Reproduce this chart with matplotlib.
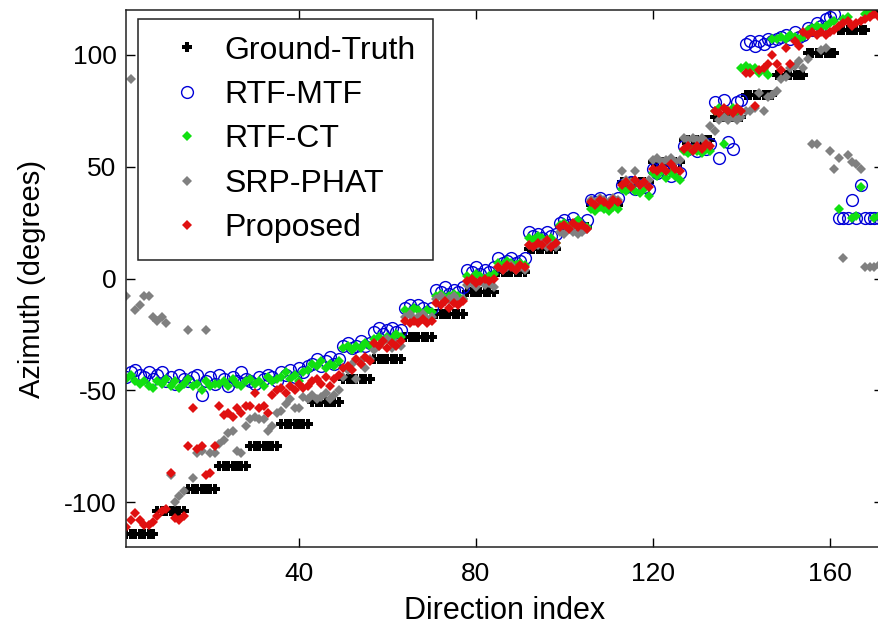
import numpy as np
import matplotlib
matplotlib.use("Agg")
import matplotlib.pyplot as plt

plt.rcParams["font.family"] = ["Liberation Sans", "DejaVu Sans"]
plt.rcParams["axes.unicode_minus"] = False

# direction index 1..172, 7 directions per ground-truth level
direction_index = np.arange(1, 173)

ground_truth = [
    -114, -114, -114, -114, -114, -114, -114,
    -104, -104, -104, -104, -104, -104, -104,
    -94, -94, -94, -94, -94, -94, -94,
    -84, -84, -84, -84, -84, -84, -84,
    -75, -75, -75, -75, -75, -75, -75,
    -65, -65, -65, -65, -65, -65, -65,
    -55, -55, -55, -55, -55, -55, -55,
    -45, -45, -45, -45, -45, -45, -45,
    -36, -36, -36, -36, -36, -36, -36,
    -26, -26, -26, -26, -26, -26, -26,
    -16, -16, -16, -16, -16, -16, -16,
    -6, -6, -6, -6, -6, -6, -6,
    3, 3, 3, 3, 3, 3, 3,
    13, 13, 13, 13, 13, 13, 13,
    23, 23, 23, 23, 23, 23, 23,
    33, 33, 33, 33, 33, 33, 33,
    43, 43, 43, 43, 43, 43, 43,
    52, 52, 52, 52, 52, 52, 52,
    62, 62, 62, 62, 62, 62, 62,
    72, 72, 72, 72, 72, 72, 72,
    82, 82, 82, 82, 82, 82, 82,
    91, 91, 91, 91, 91, 91, 91,
    101, 101, 101, 101, 101, 101, 101,
    111, 111, 111, 111, 111, 111, 111,
    120, 120, 120, 120,
]

rtf_mtf = [
    -44, -42, -41, -43, -44, -42, -45,
    -43, -42, -46, -44, -47, -43, -45,
    -46, -44, -43, -52, -46, -44, -47,
    -43, -45, -48, -44, -46, -42, -45,
    -46, -47, -44, -45, -43, -44, -46,
    -42, -43, -41, -44, -40, -42, -39,
    -38, -36, -39, -37, -35, -38, -36,
    -30, -29, -31, -30, -28, -30, -29,
    -24, -22, -25, -23, -22, -24, -23,
    -13, -12, -14, -12, -13, -15, -13,
    -5, -6, -4, -7, -5, -6, -4,
    4, 3, 5, 2, 4, 3, 5,
    9, 7, 8, 9, 7, 8, 9,
    21, 19, 20, 18, 21, 19, 20,
    25, 26, 24, 27, 25, 23, 26,
    35, 34, 36, 33, 35, 34, 36,
    42, 41, 43, 40, 42, 41, 40,
    49, 47, 50, 48, 46, 49, 47,
    59, 58, 60, 57, 59, 58, 60,
    79, 54, 80, 61, 58, 79, 80,
    105, 106, 104, 106, 105, 107, 106,
    107, 108, 109, 107, 110, 108, 109,
    112, 111, 114, 113, 116, 117, 118,
    27, 27, 27, 35, 27, 42, 27,
    27, 27, 27, 27,
]

rtf_ct = [
    -45, -43, -46, -47, -46, -48, -49,
    -46, -47, -45, -48, -46, -49, -47,
    -45, -48, -47, -50, -46, -48, -47,
    -47, -46, -48, -45, -47, -48, -46,
    -45, -47, -46, -48, -44, -46, -45,
    -44, -42, -45, -43, -46, -42, -41,
    -38, -39, -37, -40, -38, -39, -37,
    -31, -30, -32, -30, -31, -29, -30,
    -27, -26, -28, -26, -27, -25, -26,
    -14, -15, -13, -14, -16, -14, -15,
    -8, -7, -9, -8, -7, -8, -9,
    1, 0, 2, 1, 0, 1, 2,
    7, 6, 8, 7, 6, 7, 6,
    18, 17, 19, 18, 17, 18, 16,
    24, 25, 23, 24, 26, 24, 23,
    31, 30, 32, 31, 30, 32, 31,
    40, 39, 41, 39, 38, 40, 37,
    47, 46, 48, 45, 47, 46, 44,
    57, 56, 58, 57, 56, 58, 57,
    75, 76, 60, 75, 76, 75, 94,
    95, 94, 94, 92, 93, 91, 107,
    107, 108, 107, 109, 108, 107, 108,
    111, 112, 113, 112, 113, 114, 115,
    31, 116, 117, 27, 28, 41, 118,
    119, 27, 28, 27,
]

srp_phat = [
    -8, 89, -14, -12, -8, -8, -17,
    -19, -17, -20, -88, -100, -97, -95,
    -23, -89, -78, -77, -23, -78, -78,
    -74, -72, -69, -68, -77, -78, -66,
    -63, -62, -63, -63, -68, -66, -60,
    -59, -56, -54, -58, -58, -53, -54,
    -52, -54, -53, -51, -54, -52, -50,
    -44, -41, -38, -45, -37, -40, -36,
    -32, -30, -28, -27, -31, -29, -30,
    -17, -16, -18, -17, -16, -18, -17,
    -9, -8, -10, -9, -8, -10, -9,
    -3, -2, -4, -1, -3, -2, -4,
    5, 4, 5, 6, 4, 5, 4,
    15, 14, 15, 16, 14, 15, 14,
    21, 20, 22, 21, 20, 21, 22,
    35, 34, 36, 35, 34, 36, 35,
    48, 44, 43, 48, 42, 43, 44,
    53, 54, 52, 53, 54, 52, 53,
    63, 62, 63, 62, 63, 61, 68,
    66, 71, 72, 71, 72, 71, 72,
    75, 75, 76, 83, 75, 81, 82,
    84, 89, 90, 94, 95, 97, 94,
    98, 60, 60, 102, 103, 57, 49,
    54, 9, 55, 52, 51, 49, 5,
    5, 5, 6, 5,
]

proposed = [
    -111, -108, -105, -108, -110, -110, -109,
    -106, -104, -103, -87, -107, -108, -106,
    -75, -58, -76, -75, -88, -87, -75,
    -57, -61, -60, -62, -58, -60, -57,
    -57, -51, -58, -57, -60, -52, -50,
    -49, -51, -48, -50, -47, -49, -48,
    -46, -45, -47, -44, -48, -45, -43,
    -40, -39, -41, -36, -38, -35, -37,
    -29, -30, -28, -31, -29, -30, -28,
    -19, -20, -19, -20, -18, -20, -19,
    -11, -12, -10, -13, -11, -12, -10,
    -1, 0, -2, -1, 0, -1, 0,
    5, 4, 6, 5, 4, 6, 5,
    15, 14, 16, 15, 17, 14, 16,
    23, 24, 22, 25, 23, 24, 22,
    34, 33, 35, 34, 33, 35, 34,
    42, 43, 41, 44, 42, 43, 41,
    49, 48, 50, 48, 51, 49, 48,
    58, 59, 57, 59, 58, 60, 59,
    75, 74, 76, 75, 74, 76, 75,
    92, 92, 77, 93, 94, 96, 100,
    96, 93, 103, 96, 106, 104, 110,
    109, 110, 109, 110, 109, 110, 111,
    113, 114, 115, 113, 114, 115, 116,
    117, 118, 117, 118,
]

fig = plt.figure(figsize=(8.79, 6.25), dpi=100)
# the original figure is cropped on the right, so the axes runs past the edge
ax = fig.add_axes([0.1438, 0.1248, 0.8608, 0.8592])

ax.plot(direction_index, ground_truth, linestyle="none", marker="P",
        markersize=7, color="black", markeredgewidth=0, label="Ground-Truth")
ax.plot(direction_index, rtf_mtf, linestyle="none", marker="o",
        markersize=8.5, markerfacecolor="none", markeredgecolor="#0000d8",
        markeredgewidth=1.0, label="RTF-MTF")
ax.plot(direction_index, rtf_ct, linestyle="none", marker="D",
        markersize=4.6, color="#11e011", markeredgewidth=0, label="RTF-CT")
ax.plot(direction_index, srp_phat, linestyle="none", marker="D",
        markersize=4.6, color="#808080", markeredgewidth=0, label="SRP-PHAT")
ax.plot(direction_index, proposed, linestyle="none", marker="D",
        markersize=4.6, color="#e01010", markeredgewidth=0, label="Proposed")

ax.set_xlim(1, 172)
ax.set_ylim(-120, 120)
ax.set_xticks([40, 80, 120, 160])
ax.set_yticks([-100, -50, 0, 50, 100])
ax.tick_params(direction="in", length=6.5, width=1, top=True, right=True,
               labelsize=19)
ax.tick_params(axis="x", pad=11)
ax.tick_params(axis="y", pad=7)
for spine in ax.spines.values():
    spine.set_linewidth(1.1)
    spine.set_color("#222222")

ax.set_xlabel("Direction index", fontsize=22, labelpad=7)
ax.set_ylabel("Azimuth (degrees)", fontsize=21, labelpad=13)

leg = ax.legend(loc="upper left", bbox_to_anchor=(0.0153, 0.9832),
                borderaxespad=0, numpoints=1, fontsize=23, handlelength=2.0,
                handletextpad=0.2, borderpad=0.52, labelspacing=0.45,
                fancybox=False, framealpha=1)
leg.get_frame().set_edgecolor("#222222")
leg.get_frame().set_linewidth(1.1)

fig.savefig("out.png", dpi=100)
